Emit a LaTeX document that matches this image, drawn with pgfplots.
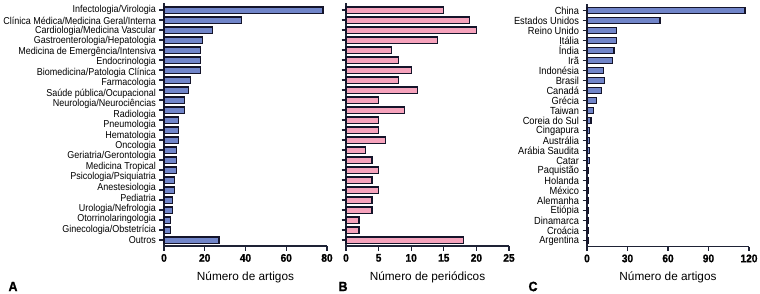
\documentclass[border=0pt]{standalone}
\usepackage{fontspec}
\setmainfont{Liberation Sans}
\newfontfamily\lblfont[FakeStretch=0.9]{Liberation Sans}
\newfontfamily\numfont[FakeStretch=0.92,FakeBold=1.2]{Liberation Sans Bold}
\usepackage{pgfplots}
\pgfplotsset{compat=1.18}
\definecolor{barblue}{HTML}{7185C9}
\definecolor{barpink}{HTML}{F6A3BC}
\definecolor{edge}{HTML}{14142A}
\definecolor{axiscol}{HTML}{1E2235}
\pgfplotsset{
  panel/.style={
    scale only axis, width=163pt, height=243pt,
    xmin=0, ymin=-0.6, ymax=23.7,
    axis lines=left,
    axis line style={-, line width=1.4pt, draw=axiscol},
    tick style={line width=1.2pt, draw=axiscol},
    major tick length=4.5pt,
    tick align=outside,
    xtick pos=bottom, ytick pos=left,
    /pgf/number format/assume math mode=true,
    xticklabel={\numfont\fontsize{11}{12}\selectfont\pgfmathprintnumber{\tick}},
    xticklabel style={text=black},
    yticklabel style={font=\lblfont\fontsize{10}{11}\selectfont, text=black, inner ysep=1pt},
    xlabel style={font=\fontsize{11.8}{13}\selectfont, text=black, yshift=-3pt},
    enlargelimits=false,
    clip=false,
  },
  barstyle/.style={xbar, bar width=6.2pt, draw=edge, line width=1.2pt},
}
\begin{document}
\begin{tikzpicture}[x=1pt,y=1pt]
\useasboundingbox (0,0) rectangle (760,293);
% ---------------- Panel A
\begin{axis}[panel, at={(164pt,47pt)}, anchor=south west,
  xmax=80, xtick={0,20,40,60,80},
  ytick={0,...,23}, yticklabels={\empty},
  extra y ticks={0,1.045,2.091,3.136,4.182,5.227,6.273,7.318,8.364,9.409,10.455,11.5,12.545,13.591,14.636,15.682,16.727,17.773,18.818,19.864,20.909,21.955,23},
  extra y tick labels={Outros, Ginecologia/Obstetrícia, Otorrinolaringologia, Urologia/Nefrologia, Pediatria, Anestesiologia, Psicologia/Psiquiatria, Medicina Tropical, Geriatria/Gerontologia, Oncologia, Hematologia, Pneumologia, Radiologia, Neurologia/Neurociências, Saúde pública/Ocupacional, Farmacologia, Biomedicina/Patologia Clínica, Endocrinologia, Medicina de Emergência/Intensiva, Gastroenterologia/Hepatologia, Cardiologia/Medicina Vascular, Clínica Médica/Medicina Geral/Interna, Infectologia/Virologia},
  extra y tick style={major tick length=0pt, yticklabel style={xshift=-4.5pt}},
  xlabel={Número de artigos}]
\addplot[barstyle, fill=barblue] coordinates {
(78,23) (38,22) (24,21) (19,20) (18,19) (18,18) (18,17) (13,16) (12,15) (10,14) (10,13) (7,12) (7,11) (7,10) (6,9) (6,8) (6,7) (5,6) (5,5) (4,4) (4,3) (3,2) (3,1) (27,0)};
\end{axis}
% ---------------- Panel B
\begin{axis}[panel, at={(346pt,47pt)}, anchor=south west,
  xmax=25, xtick={0,5,10,15,20,25},
  ytick={0,...,23}, yticklabels={\empty},
  xlabel={Número de periódicos}]
\addplot[barstyle, fill=barpink] coordinates {
(15,23) (19,22) (20,21) (14,20) (7,19) (8,18) (10,17) (8,16) (11,15) (5,14) (9,13) (5,12) (5,11) (6,10) (3,9) (4,8) (5,7) (4,6) (5,5) (4,4) (4,3) (2,2) (2,1) (18,0)};
\end{axis}
% ---------------- Panel C
\begin{axis}[panel, at={(587pt,46.5pt)}, anchor=south west, width=162pt,
  xmax=120, xtick={0,30,60,90,120},
  ytick={0,...,23},
  yticklabel style={font=\lblfont\fontsize{10.3}{11}\selectfont},
  yticklabels={Argentina, Croácia, Dinamarca, Etiópia, Alemanha, México, Holanda, Paquistão, Catar, Arábia Saudita, Austrália, Cingapura, Coreia do Sul, Taiwan, Grécia, Canadá, Brasil, Indonésia, Irã, Índia, Itália, Reino Unido, Estados Unidos, China},
  xlabel={Número de artigos}]
\addplot[barstyle, fill=barblue] coordinates {
(117,23) (54,22) (22,21) (22,20) (20,19) (19,18) (12,17) (13,16) (11,15) (7,14) (5,13) (3,12) (2,11) (2,10) (2,9) (2,8) (1,7) (1,6) (1,5) (1,4) (1,3) (1,2) (1,1) (1,0)};
\end{axis}
\node[font=\numfont\fontsize{13.5}{14}\selectfont, anchor=center] at (13,6.5) {A};
\node[font=\numfont\fontsize{13.5}{14}\selectfont, anchor=center] at (343,6.5) {B};
\node[font=\numfont\fontsize{13.5}{14}\selectfont, anchor=center] at (533,6.5) {C};
\end{tikzpicture}
\end{document}
